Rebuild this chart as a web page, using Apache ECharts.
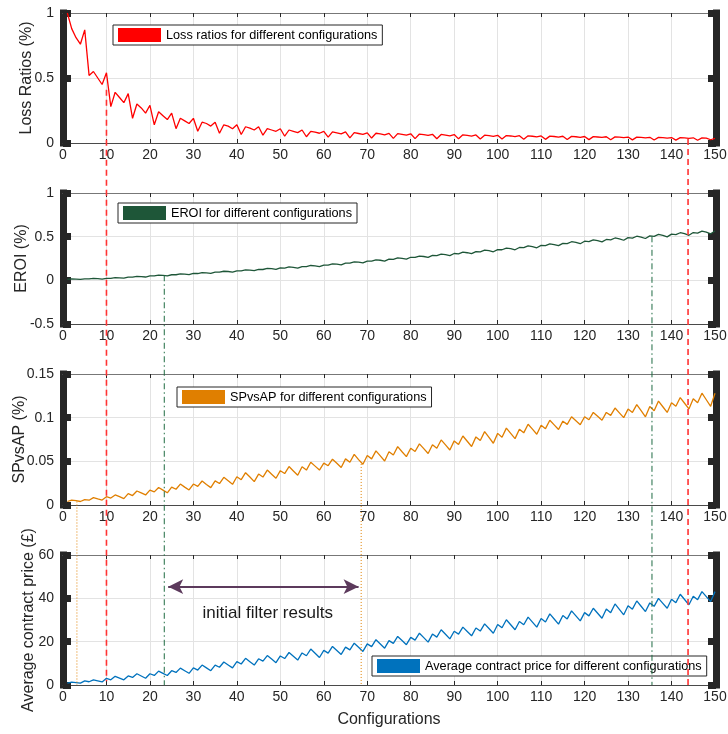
<!DOCTYPE html>
<html>
<head>
<meta charset="utf-8">
<script src="https://cdn.jsdelivr.net/npm/echarts@6/dist/echarts.min.js"></script>
<style>html,body{margin:0;padding:0;background:#fff}#c{width:728px;height:734px}</style>
</head>
<body>
<div id="c"></div>
<script>
// ---- data ----
const configs = Array.from({length:150},(_,i)=>i+1);

const lossRatios = [
1.0,0.88,0.81,0.76,0.87,0.52,0.55,0.50,0.45,0.54,
0.28,0.39,0.35,0.31,0.38,0.19,0.30,0.27,0.23,0.29,
0.14,0.24,0.21,0.18,0.23,0.11,0.19,0.17,0.15,0.19,
0.09,0.16,0.15,0.13,0.16,0.075,0.14,0.13,0.11,0.14,
0.065,0.125,0.115,0.10,0.125,0.06,0.11,0.10,0.09,0.11,
0.052,0.10,0.09,0.08,0.10,0.048,0.09,0.083,0.075,0.09,
0.045,0.085,0.078,0.07,0.085,0.04,0.08,0.073,0.066,0.078,
0.038,0.075,0.07,0.063,0.074,0.036,0.072,0.067,0.06,0.071,
0.034,0.069,0.064,0.058,0.067,0.033,0.066,0.061,0.055,0.065,
0.032,0.063,0.058,0.053,0.062,0.031,0.06,0.056,0.051,0.059,
0.03,0.057,0.054,0.049,0.056,0.029,0.055,0.052,0.047,0.054,
0.028,0.053,0.05,0.045,0.052,0.027,0.051,0.048,0.044,0.05,
0.026,0.049,0.046,0.043,0.048,0.025,0.047,0.045,0.041,0.046,
0.024,0.045,0.043,0.04,0.044,0.023,0.043,0.041,0.038,0.042,
0.022,0.041,0.039,0.036,0.04,0.021,0.039,0.037,0.025,0.036
];

const eroi = [
0.011,0.016,0.014,0.010,0.017,0.016,0.022,0.019,0.014,0.023,
0.023,0.031,0.029,0.025,0.036,0.036,0.045,0.043,0.038,0.050,
0.050,0.059,0.057,0.052,0.064,0.064,0.073,0.071,0.065,0.079,
0.078,0.088,0.086,0.080,0.094,0.093,0.104,0.101,0.094,0.109,
0.108,0.119,0.117,0.110,0.125,0.124,0.136,0.133,0.125,0.142,
0.140,0.153,0.149,0.141,0.158,0.157,0.170,0.165,0.157,0.175,
0.175,0.189,0.186,0.178,0.198,0.197,0.212,0.208,0.200,0.221,
0.219,0.235,0.230,0.221,0.243,0.241,0.257,0.251,0.242,0.264,
0.262,0.278,0.273,0.263,0.285,0.283,0.300,0.295,0.283,0.307,
0.304,0.322,0.316,0.305,0.329,0.327,0.345,0.339,0.327,0.352,
0.350,0.369,0.362,0.350,0.376,0.374,0.394,0.386,0.373,0.401,
0.398,0.417,0.410,0.397,0.424,0.421,0.442,0.434,0.419,0.448,
0.444,0.464,0.455,0.440,0.468,0.464,0.485,0.475,0.459,0.489,
0.484,0.505,0.496,0.479,0.509,0.504,0.526,0.516,0.498,0.529,
0.524,0.545,0.534,0.516,0.547,0.541,0.563,0.552,0.533,0.565
];

const spvsap = [
0.004,0.0057,0.005,0.004,0.0062,0.0055,0.0084,0.007,0.0057,0.0095,
0.008,0.0115,0.0095,0.0073,0.013,0.0108,0.016,0.0138,0.0115,0.017,
0.015,0.020,0.017,0.014,0.0205,0.018,0.024,0.0205,0.0172,0.024,
0.0213,0.0275,0.0235,0.0199,0.0276,0.0246,0.0317,0.0277,0.0237,0.0323,
0.029,0.037,0.032,0.0268,0.0354,0.032,0.040,0.0353,0.0306,0.0393,
0.036,0.044,0.039,0.034,0.0438,0.040,0.049,0.0445,0.040,0.048,
0.045,0.0524,0.0477,0.043,0.0528,0.049,0.058,0.052,0.0466,0.0566,
0.0528,0.062,0.0562,0.0504,0.061,0.0573,0.0668,0.061,0.0554,0.0649,
0.0612,0.070,0.0645,0.059,0.069,0.065,0.0745,0.0688,0.063,0.0734,
0.0694,0.079,0.073,0.067,0.078,0.0738,0.084,0.0774,0.0707,0.082,
0.0776,0.088,0.082,0.076,0.0867,0.0826,0.0925,0.0868,0.081,0.0914,
0.0874,0.097,0.0918,0.0865,0.096,0.0923,0.101,0.0965,0.092,0.101,
0.0976,0.106,0.1015,0.097,0.106,0.1026,0.111,0.1055,0.100,0.1098,
0.106,0.115,0.108,0.101,0.1127,0.108,0.119,0.1125,0.106,0.117,
0.113,0.123,0.1165,0.110,0.1217,0.117,0.128,0.1205,0.113,0.128
];

const price = [
0.9,1.3,1.1,0.9,1.9,1.5,2.4,1.9,1.4,3.1,
2.4,4.0,3.2,2.4,4.2,3.5,5.2,4.15,3.1,5.2,
4.4,6.4,5.4,4.4,6.6,5.8,7.8,6.6,5.4,7.9,
6.9,9.2,7.9,6.6,9.2,8.2,10.6,9.25,7.9,10.8,
9.7,12.3,10.75,9.2,12.1,11.0,13.6,11.95,10.3,13.4,
12.2,15.0,13.25,11.5,14.8,13.5,16.6,14.65,12.7,16.0,
14.7,17.8,15.95,14.1,17.5,16.2,19.3,17.4,15.5,19.0,
17.7,20.9,18.95,17.0,20.5,19.2,22.4,20.5,18.6,22.0,
20.7,23.9,21.85,19.8,23.5,22.1,25.5,23.4,21.3,24.8,
23.5,26.7,24.7,22.7,26.3,24.9,28.2,26.05,23.9,27.9,
26.4,30.1,27.8,25.5,29.3,27.8,31.3,29.0,26.7,30.7,
29.1,32.8,30.45,28.1,32.1,30.5,34.2,31.9,29.6,33.4,
31.9,35.4,33.1,30.8,35.1,33.4,37.4,34.9,32.4,36.6,
35.0,38.8,36.35,33.9,37.9,36.3,40.0,37.7,35.4,39.6,
38.0,41.9,39.45,37.0,41.0,39.4,43.1,40.8,38.5,43.1
];

// annotation data (x position, start panel, start value, end value in last panel)
const markX        = [10, 143.8, 23.3, 135.5, 3.2, 68.6];
const markPanel    = [0, 0, 1, 1, 2, 2];
const markStartVal = [0.41, 0.03, 0.058, 0.504, 0.004, 0.047];
const markEndVal   = [1.7, 0, 0, 0, 0, 0];
const markKind     = ['red','red','green','green','orange','orange'];
const arrowRange = [24.2, 68.0];
const arrowLevel = 45.4;
const noteText = 'initial filter results';
const notePos = [47.1, 33.1];

const seriesNames = [
 'Loss ratios for different configurations',
 'EROI for different configurations',
 'SPvsAP for different configurations',
 'Average contract price for different configurations'
];
const yNames = ['Loss Ratios (%)','EROI (%)','SPvsAP (%)','Average contract price (£)'];
const yMin = [0,-0.5,0,0], yMax=[1,1,0.15,60], yInt=[0.5,0.5,0.05,20];
const colors = ['#ff0000','#1e5638','#e07f00','#0072bd'];
const allData = [lossRatios, eroi, spvsap, price];

// ---- layout ----
const FONT = '"Liberation Sans", Arial, Helvetica, sans-serif';
const gridTops = [13,193,374,555], gridH=[130,131,131,130];
const nameGaps = [28,33,35,26];
const legendPos = [[113,25],[118,203],[177,387],[372,656]];

const grids=[], xAxes=[], yAxes=[], series=[], legends=[];
for(let g=0; g<4; g++){
  grids.push({left:63, right:13, top:gridTops[g], height:gridH[g], containLabel:false, outerBoundsMode:'none'});
  xAxes.push({
    type:'value', gridIndex:g, min:0, max:150, interval:10, position:'bottom',
    axisLine:{show:true, onZero:false, lineStyle:{color:'#4a4a4a', width:1}},
    axisTick:{show:true, inside:true, length:4, lineStyle:{color:'#262626', width:1}},
    axisLabel:{show:true, fontSize:14, color:'#262626', margin:5, fontFamily:FONT},
    splitLine:{show:true, lineStyle:{color:'#e3e3e3', width:1}},
    name: g===3 ? 'Configurations' : '',
    nameLocation:'middle', nameGap:27, nameMoveOverlap:false,
    nameTextStyle:{fontSize:16, color:'#262626', fontFamily:FONT}
  });
  xAxes.push({
    type:'value', gridIndex:g, min:0, max:150, interval:10, position:'top',
    axisLine:{show:true, onZero:false, lineStyle:{color:'#777', width:1}},
    axisTick:{show:true, inside:true, length:4, lineStyle:{color:'#262626', width:1}},
    axisLabel:{show:false}, splitLine:{show:false}
  });
  yAxes.push({
    type:'value', gridIndex:g, min:yMin[g], max:yMax[g], interval:yInt[g], position:'left',
    axisLine:{show:true, onZero:false, lineStyle:{color:'#262626', width:7, cap:'square'}},
    axisTick:{show:true, inside:true, length:8, lineStyle:{color:'#262626', width:7}},
    axisLabel:{show:true, fontSize:14, color:'#262626', margin:9, fontFamily:FONT,
      formatter: v => String(+v.toFixed(3))},
    splitLine:{show:true, lineStyle:{color:'#e3e3e3', width:1}},
    name:yNames[g], nameLocation:'middle', nameGap:nameGaps[g], nameRotate:90, nameMoveOverlap:false,
    nameTextStyle:{fontSize:16, color:'#262626', fontFamily:FONT}
  });
  yAxes.push({
    type:'value', gridIndex:g, min:yMin[g], max:yMax[g], interval:yInt[g], position:'right', offset:1,
    axisLine:{show:true, onZero:false, lineStyle:{color:'#262626', width:7, cap:'square'}},
    axisTick:{show:true, inside:true, length:8, lineStyle:{color:'#262626', width:7}},
    axisLabel:{show:false}, splitLine:{show:false}
  });
  const s = {
    name:seriesNames[g], type:'line', xAxisIndex:2*g, yAxisIndex:2*g,
    data: configs.map((c,i)=>[c, allData[g][i]]),
    showSymbol:false, symbol:'none', color:colors[g],
    lineStyle:{color:colors[g], width:1.3}, z:3, silent:true
  };
  if(g===3){
    s.markLine = {
      silent:true, symbol:['arrow','arrow'], symbolSize:[11,15],
      label:{show:false},
      lineStyle:{color:'#5c3a5c', width:2, type:'solid'},
      data:[[{coord:[arrowRange[0], arrowLevel]},{coord:[arrowRange[1], arrowLevel]}]]
    };
  }
  series.push(s);
  legends.push({
    data:[{name:seriesNames[g], icon:'rect'}], left:legendPos[g][0], top:legendPos[g][1],
    itemWidth:43, itemHeight:14, padding:[3,5,3,5],
    backgroundColor:'#fff', borderColor:'#262626', borderWidth:1, borderRadius:0,
    textStyle:{fontSize:12.7, color:'#000', fontFamily:FONT},
    selectedMode:false, z:10
  });
}

const chart = echarts.init(document.getElementById('c'), null, {renderer:'canvas'});
chart.setOption({
  animation:false,
  backgroundColor:'#fff',
  textStyle:{fontFamily:FONT},
  grid:grids, xAxis:xAxes, yAxis:yAxes, series:series, legend:legends
});

const styles = {
  red:{stroke:'#ff3333', lineWidth:1.6, lineDash:[6,4]},
  green:{stroke:'#1e6b42', lineWidth:1, lineDash:[6,3,1.5,3]},
  orange:{stroke:'#e08000', lineWidth:1, lineDash:[1,2]}
};
function toPx(g, x, y){ return chart.convertToPixel({xAxisIndex:2*g, yAxisIndex:2*g}, [x,y]); }
const graphics = [];
markX.forEach((x,i)=>{
  const a = toPx(markPanel[i], x, markStartVal[i]);
  const b = toPx(3, x, markEndVal[i]);
  graphics.push({type:'line', z:50, silent:true,
    shape:{x1:a[0], y1:a[1], x2:b[0], y2:b[1]},
    style:Object.assign({}, styles[markKind[i]])});
});
const np = toPx(3, notePos[0], notePos[1]);
graphics.push({type:'text', z:50, silent:true, x:np[0], y:np[1],
  style:{text:noteText, fontSize:17, fill:'#1a1a1a', fontFamily:FONT, align:'center', verticalAlign:'middle'}});
chart.setOption({graphic:graphics});
</script>
</body>
</html>
